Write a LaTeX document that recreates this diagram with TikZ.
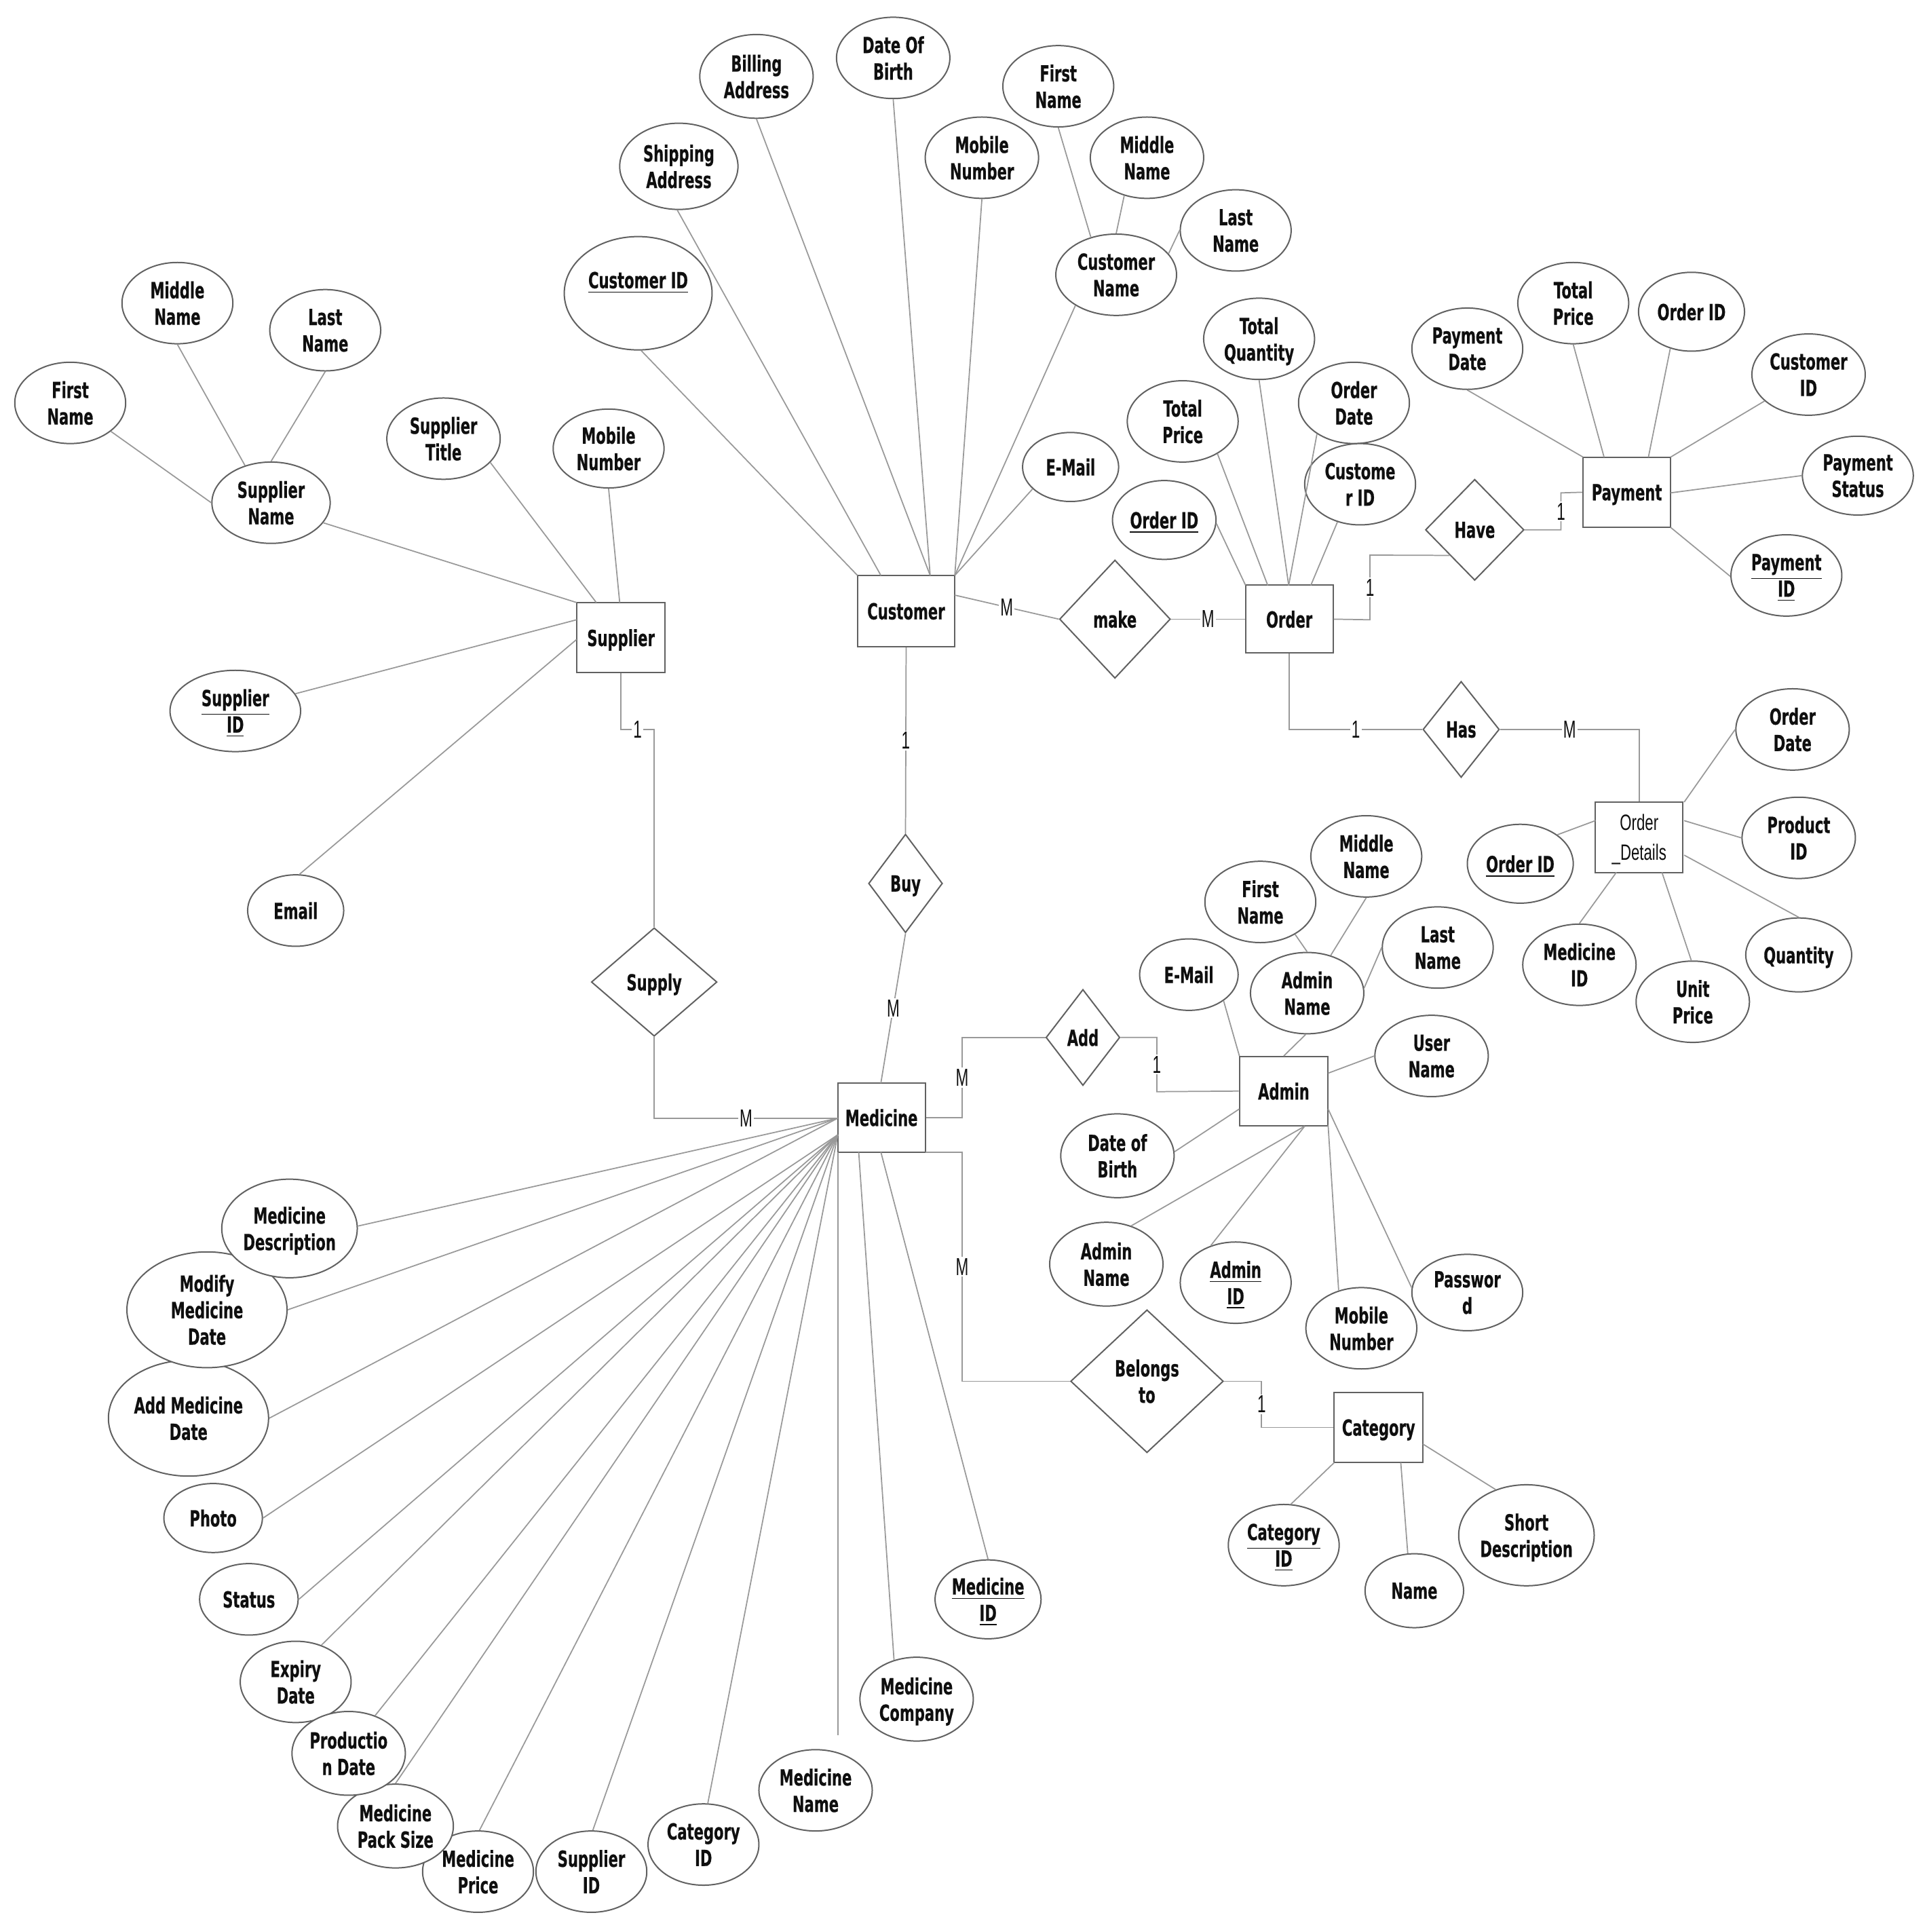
\documentclass[tikz,border=0pt]{standalone}
\usepackage{fontspec}
\usetikzlibrary{shapes.geometric}
\setmainfont{DejaVu Sans}[FakeStretch=0.645,BoldFeatures={FakeBold=0.5}]
\newfontfamily\labelfont{Liberation Sans}[FakeStretch=0.62]
\newfontfamily\detailfont{Liberation Sans}[FakeStretch=0.68]
\definecolor{shapeln}{gray}{0.38}
\definecolor{linkln}{gray}{0.6}
\definecolor{inktxt}{gray}{0.06}
\tikzset{
  txt/.style={font=\fontsize{9}{10.75}\selectfont\bfseries,text=inktxt,align=center,inner sep=0pt,text depth=0pt},
  attrib/.style={txt,ellipse,draw=shapeln,fill=white,line width=0.55pt,inner sep=-12pt},
  entity/.style={txt,rectangle,draw=shapeln,fill=white,line width=0.55pt},
  relat/.style={txt,diamond,draw=shapeln,fill=white,line width=0.55pt},
  lk/.style={draw=linkln,line width=0.48pt},
  lab/.style={font=\labelfont\fontsize{10}{11}\selectfont,text=inktxt,fill=white,inner sep=0.6pt},
}
% name, cx, cy, half width, half height, text (half sizes in pt = drawing units of 2 px)
\newcommand{\ea}[6]{\node[attrib,minimum width=#4pt,minimum height=#5pt] (#1) at (#2,#3) {#6};}
\newcommand{\er}[6]{\node[entity,minimum width=#4pt,minimum height=#5pt] (#1) at (#2,#3) {#6};}
\newcommand{\ed}[6]{\node[relat,minimum width=#4pt,minimum height=#5pt] (#1) at (#2,#3) {#6};}
\begin{document}
\begin{tikzpicture}[x=0.5pt,y=-0.5pt]
\useasboundingbox[fill=white] (0,0) rectangle (1564,1568);
% Entities
\er{supplier}{504}{517.5}{36}{28.5}{Supplier}
\er{customer}{735.5}{496}{39.5}{29}{Customer}
\er{order}{1046.5}{502.5}{35.5}{27.5}{Order}
\er{payment}{1320.5}{399.5}{35.5}{28.5}{Payment}
\node[entity,minimum width=35.5pt,minimum height=28.5pt,font=\detailfont\fontsize{9}{12}\selectfont] (details) at (1330.5,679.5) {Order\\\_Details};
\er{medicine}{715.5}{907}{35.5}{28}{Medicine}
\er{admin}{1042}{885.5}{36}{28}{Admin}
\er{category}{1119}{1158.5}{36}{28.5}{Category}
% Relationships
\ed{make}{905}{502.5}{45}{48}{make}
\ed{have}{1197}{430}{40}{41}{Have}
\ed{has}{1186}{592}{31}{39}{Has}
\ed{buy}{735}{717}{30}{40}{Buy}
\ed{supply}{531}{797}{51}{44}{Supply}
\ed{add}{879}{842}{30}{39}{Add}
\ed{belongs}{931}{1121}{62}{58}{Belongs\\to}
% Customer attributes
\ea{billing}{614}{62}{46}{34}{Billing\\Address}
\ea{cdob}{725}{47}{46}{33}{Date Of\\Birth}
\ea{shipping}{551}{135}{48}{35}{Shipping\\Address}
\ea{cmobile}{797}{128}{46}{33}{Mobile\\Number}
\ea{cfirst}{859}{70}{45}{33}{First\\Name}
\ea{cmiddle}{931}{128}{46}{33}{Middle\\Name}
\ea{clast}{1003}{187}{45}{33}{Last\\Name}
\ea{cname}{906}{223}{49}{33}{Customer\\Name}
\ea{custid}{518}{238}{60}{46}{\underline{Customer ID}\\\mbox{}}
\ea{cemail}{869}{379}{39}{28}{E-Mail}
% Order attributes
\ea{oqty}{1022}{275}{45}{33}{Total\\Quantity}
\ea{oprice}{960}{342}{45}{33}{Total\\Price}
\ea{odate}{1099}{327}{45}{33}{Order\\Date}
\ea{ocust}{1104}{393}{45}{33}{Custome\\r ID}
\ea{oid}{945}{422}{42}{32}{\underline{Order ID}}
% Payment attributes
\ea{pdate}{1191}{283}{45}{33}{Payment\\Date}
\ea{pprice}{1277}{246}{45}{33}{Total\\Price}
\ea{porder}{1373}{253}{43}{32}{Order ID}
\ea{pcust}{1468}{304}{46}{33}{Customer\\ID}
\ea{pstatus}{1508}{386}{45}{32}{Payment\\Status}
\ea{pid}{1450}{467}{45}{33}{\underline{Payment}\\\underline{ID}}
% Supplier attributes
\ea{sfirst}{57}{327}{45}{33}{First\\Name}
\ea{smiddle}{144}{246}{45}{33}{Middle\\Name}
\ea{slast}{264}{268}{45}{33}{Last\\Name}
\ea{sname}{220}{408}{48}{33}{Supplier\\Name}
\ea{stitle}{360}{356}{46}{33}{Supplier\\Title}
\ea{smobile}{494}{364}{45}{32}{Mobile\\Number}
\ea{sid}{191}{577}{53}{33}{\underline{Supplier}\\\underline{ID}}
\ea{semail}{240}{739}{39}{29}{Email}
% Order details attributes
\ea{ddate}{1455}{592}{46}{33}{Order\\Date}
\ea{dprod}{1460}{680}{46}{33}{Product\\ID}
\ea{dorder}{1234}{701}{43}{32}{\underline{Order ID}}
\ea{dmed}{1282}{783}{46}{33}{Medicine\\ID}
\ea{dunit}{1374}{813}{46}{33}{Unit\\Price}
\ea{dqty}{1460}{775}{43}{30}{Quantity}
% Admin attributes
\ea{amiddle}{1109}{695}{45}{33}{Middle\\Name}
\ea{afirst}{1023}{732}{45}{33}{First\\Name}
\ea{aemail}{965}{791}{40}{29}{E-Mail}
\ea{alast}{1167}{769}{45}{33}{Last\\Name}
\ea{aname}{1061}{806}{46}{33}{Admin\\Name}
\ea{auser}{1162}{857}{46}{33}{User\\Name}
\ea{adob}{907}{938}{46}{34}{Date of\\Birth}
\ea{anametwo}{898}{1026}{46}{34}{Admin\\Name}
\ea{aid}{1003}{1041}{45}{33}{\underline{Admin}\\\underline{ID}}
\ea{amobile}{1105}{1078}{45}{33}{Mobile\\Number}
\ea{apass}{1191}{1049}{45}{31}{Passwor\\d}
% Category attributes
\ea{catid}{1042}{1254}{45}{33}{\underline{Category}\\\underline{ID}}
\ea{catname}{1148}{1291}{40}{30}{Name}
\ea{catdesc}{1239}{1246}{55}{41}{Short\\Description}
% Medicine attributes
\ea{madd}{153}{1151}{65}{47}{Add Medicine\\Date}
\ea{mmod}{168}{1063}{65}{47}{Modify\\Medicine\\Date}
\ea{mdesc}{235}{997}{55}{40}{Medicine\\Description}
\ea{mphoto}{173}{1232}{40}{28}{Photo}
\ea{mstatus}{202}{1298}{40}{29}{Status}
\ea{mprice}{388}{1519}{45}{33}{Medicine\\Price}
\ea{mpack}{321}{1482}{47}{34}{Medicine\\Pack Size}
\ea{mexp}{240}{1365}{45}{33}{Expiry\\Date}
\ea{mprod}{283}{1423}{46}{34}{Productio\\n Date}
\ea{msup}{480}{1519}{45}{33}{Supplier\\ID}
\ea{mcat}{571}{1497}{45}{33}{Category\\ID}
\ea{mname}{662}{1453}{46}{33}{Medicine\\Name}
\ea{mcomp}{744}{1379}{46}{34}{Medicine\\Company}
\ea{mid}{802}{1298}{43}{32}{\underline{Medicine}\\\underline{ID}}
% Ports on the entity boxes
\coordinate (cuA) at (696,467); \coordinate (cuB) at (715,467);
\coordinate (cuC) at (755,467); \coordinate (cuD) at (775,467);
\coordinate (cuR) at (775,483);
\coordinate (orA) at (1011,475); \coordinate (orB) at (1029,475);
\coordinate (orC) at (1046,475); \coordinate (orD) at (1064,475);
\coordinate (paA) at (1285,371); \coordinate (paB) at (1302,371);
\coordinate (paC) at (1338,371); \coordinate (paD) at (1356,371);
\coordinate (paE) at (1356,400); \coordinate (paF) at (1356,428);
\coordinate (suA) at (468,489); \coordinate (suB) at (484,489);
\coordinate (suC) at (503,489); \coordinate (suD) at (468,503);
\coordinate (suE) at (468,519);
\coordinate (deA) at (1367,651); \coordinate (deB) at (1367,666);
\coordinate (deC) at (1367,694); \coordinate (deD) at (1349,708);
\coordinate (deE) at (1312,708); \coordinate (deF) at (1295,666);
\coordinate (adA) at (1006,857); \coordinate (adB) at (1042,857);
\coordinate (adC) at (1078,871); \coordinate (adD) at (1006,900);
\coordinate (adE) at (1059,914); \coordinate (adG) at (1078,913);
\coordinate (adH) at (1078,900);
\coordinate (caA) at (1083,1187); \coordinate (caB) at (1137,1187);
\coordinate (caC) at (1155,1172);
\coordinate (meA) at (680,907.5); \coordinate (meB) at (680,921);
\coordinate (meI) at (680,935); \coordinate (meK) at (697,935);
\coordinate (meL) at (715,935); \coordinate (meT) at (715,879);
\coordinate (meR) at (751,935);
\coordinate (mnEnd) at (680,1408);
% Attribute links
\draw[lk] (custid.273)--(cuA); \draw[lk] (shipping.268)--(cuB);
\draw[lk] (billing.270)--(cuC); \draw[lk] (cdob.270)--(cuC);
\draw[lk] (cmobile.270)--(cuD); \draw[lk] (cname.217)--(cuD);
\draw[lk] (cemail.210)--(cuD);
\draw[lk] (cfirst.270)--(cname.124); \draw[lk] (cmiddle.239)--(cname.90);
\draw[lk] (clast.180)--(cname.22);
\draw[lk] (oid.356)--(orA); \draw[lk] (oprice.317)--(orB);
\draw[lk] (oqty.270)--(orC); \draw[lk] (odate.220)--(orC);
\draw[lk] (ocust.239)--(orD);
\draw[lk] (pdate.270)--(paA); \draw[lk] (pprice.270)--(paB);
\draw[lk] (porder.240)--(paC); \draw[lk] (pcust.211)--(paD);
\draw[lk] (pstatus.180)--(paE); \draw[lk] (pid.181)--(paF);
\draw[lk] (sname.339)--(suA); \draw[lk] (stitle.333)--(suB);
\draw[lk] (smobile.270)--(suC); \draw[lk] (sid.16)--(suD);
\draw[lk] (semail.84)--(suE);
\draw[lk] (sfirst.325)--(sname.180); \draw[lk] (smiddle.270)--(sname.125);
\draw[lk] (slast.270)--(sname.90);
\draw[lk] (ddate.180)--(deA); \draw[lk] (dprod.180)--(deB);
\draw[lk] (dqty.90)--(deC); \draw[lk] (dunit.92)--(deD);
\draw[lk] (dmed.90)--(deE); \draw[lk] (dorder.38)--(deF);
\draw[lk] (aemail.323)--(adA); \draw[lk] (afirst.317)--(aname.90);
\draw[lk] (amiddle.270)--(aname.58); \draw[lk] (alast.180)--(aname.5);
\draw[lk] (aname.268)--(adB); \draw[lk] (auser.180)--(adC);
\draw[lk] (adob.4)--(adD); \draw[lk] (anametwo.57)--(adE);
\draw[lk] (aid.124)--(adE); \draw[lk] (amobile.121)--(adG);
\draw[lk] (apass.175)--(adH);
\draw[lk] (catid.80)--(caA); \draw[lk] (catname.100)--(caB);
\draw[lk] (catdesc.124)--(caC);
\draw[lk] (mdesc.2)--(meA); \draw[lk] (mmod.0)--(meA);
\draw[lk] (madd.0)--(meA); \draw[lk] (mphoto.0)--(meB);
\draw[lk] (mstatus.0)--(meB); \draw[lk] (mexp.55)--(meB);
\draw[lk] (mprod.55)--(meB); \draw[lk] (mpack.90)--(meB);
\draw[lk] (mprice.88)--(meB); \draw[lk] (msup.88)--(meB);
\draw[lk] (mcat.84)--(meB); \draw[lk] (mnEnd)--(meI);
\draw[lk] (mcomp.120)--(meK); \draw[lk] (mid.90)--(meL);
% Relationship links
\coordinate (b1) at (1112,503); \coordinate (b2) at (1112,450.5);
\coordinate (b3) at (1267,430); \coordinate (b4) at (1267,400);
\coordinate (b5) at (1046.5,592); \coordinate (b6) at (1330.5,592);
\coordinate (b7) at (504,592); \coordinate (b8) at (531,592);
\coordinate (b9) at (531,907.5);
\coordinate (b10) at (781,907); \coordinate (b11) at (781,842);
\coordinate (b12) at (939,842); \coordinate (b13) at (939,886);
\coordinate (b14) at (781,935); \coordinate (b15) at (781,1121);
\coordinate (b16) at (1024,1121); \coordinate (b17) at (1024,1158.5);
\draw[lk] (cuR) -- node[lab]{M} (make.west);
\draw[lk] (make.east) -- node[lab]{M} (order.west);
\draw[lk] (order.east) -- (b1) -- node[lab,pos=.5]{1} (b2) -- (have.south west);
\draw[lk] (have.east) -- (b3) -- node[lab]{1} (b4) -- (payment.west);
\draw[lk] (order.south) -- (b5) -- node[lab]{1} (has.west);
\draw[lk] (has.east) -- node[lab]{M} (b6) -- (details.north);
\draw[lk] (customer.south) -- node[lab]{1} (buy.north);
\draw[lk] (buy.south) -- node[lab]{M} (meT);
\draw[lk] (supplier.south) -- (b7) -- node[lab]{1} (b8) -- (supply.north);
\draw[lk] (supply.south) -- (b9) -- node[lab]{M} (meA);
\draw[lk] (medicine.east) -- (b10) -- node[lab]{M} (b11) -- (add.west);
\draw[lk] (add.east) -- (b12) -- node[lab]{1} (b13) -- (admin.west);
\draw[lk] (meR) -- (b14) -- node[lab]{M} (b15) -- (belongs.west);
\draw[lk] (belongs.east) -- (b16) -- node[lab]{1} (b17) -- (category.west);
\end{tikzpicture}
\end{document}
